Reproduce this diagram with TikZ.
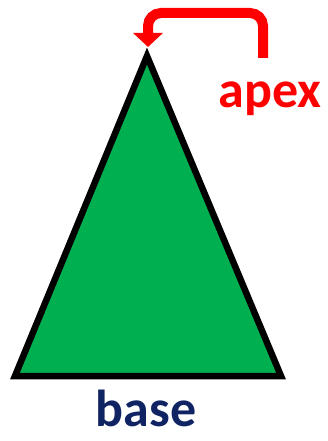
\documentclass[tikz,border=0pt]{standalone}
\usepackage{fontspec}
\setmainfont{Carlito}
\usetikzlibrary{arrows.meta}
\definecolor{trigreen}{RGB}{0,176,80}
\definecolor{navy}{RGB}{16,36,100}
\tikzset{
  label text/.style={font=\fontsize{52}{60}\selectfont\bfseries, inner sep=0pt, anchor=base},
  pointer/.style={draw=red, line width=10pt, rounded corners=13pt, -{Triangle[length=14pt,width=29pt]}},
}
\begin{document}
\begin{tikzpicture}[x=1pt,y=-1pt]
\useasboundingbox (0,0) rectangle (328,441);
\coordinate (A) at (147,56);
\coordinate (B) at (15,376);
\coordinate (C) at (281,376);
\filldraw[fill=trigreen, draw=black, line width=6.5pt, line join=miter] (A) -- (B) -- (C) -- cycle;
\coordinate (s) at (263,58);
\coordinate (tip) at (148,47);
\draw[pointer] (s) -- (263,13) -- (148,13) -- (tip);
\node[label text, text=red] (apex) at (270,107) {apex};
\node[label text, text=navy, text depth=0pt] (base) at (146,426) {base};
\end{tikzpicture}
\end{document}
